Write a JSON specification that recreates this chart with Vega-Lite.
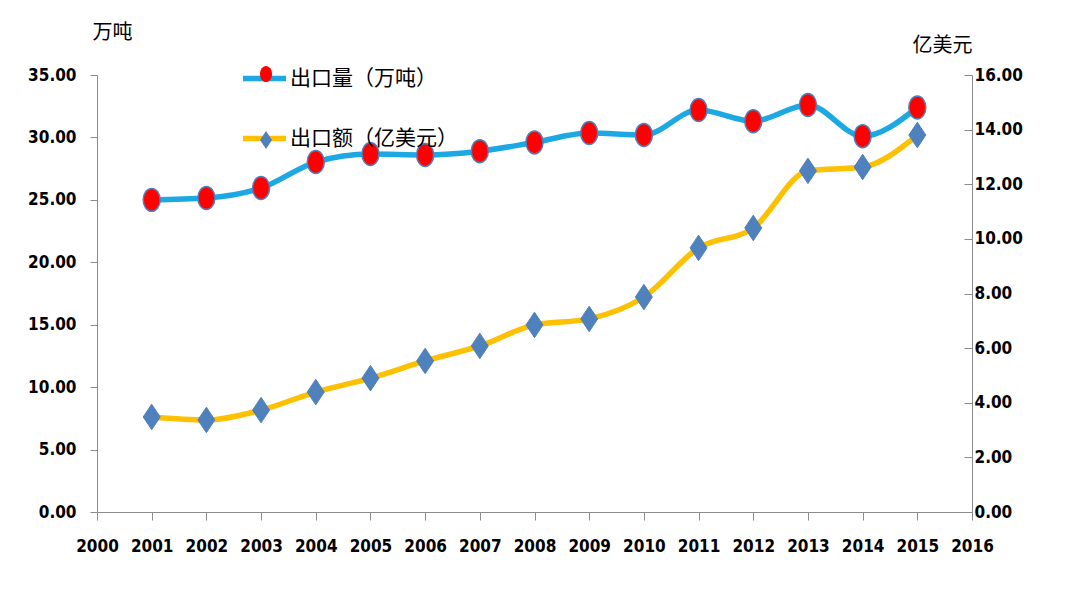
{
  "$schema": "https://vega.github.io/schema/vega-lite/v6.json",
  "autosize": "none",
  "width": 875,
  "height": 437,
  "padding": {"left": 97, "top": 75, "right": 108, "bottom": 80},
  "background": "white",
  "config": {
    "view": {"stroke": null},
    "axis": {"grid": false, "domainColor": "#8c8c8c", "tickColor": "#8c8c8c", "labelFont": "Liberation Sans Narrow, DejaVu Sans Condensed, sans-serif", "labelFontWeight": "bold", "labelFontSize": 17, "labelColor": "#000", "titleFont": "Noto Sans CJK SC", "titleFontWeight": "normal", "titleFontSize": 20, "titleColor": "#000"}
  },
  "data": {"values": [
    {"year": 2001, "vol": 25.0, "val": 3.48},
    {"year": 2002, "vol": 25.15, "val": 3.37},
    {"year": 2003, "vol": 25.95, "val": 3.73},
    {"year": 2004, "vol": 28.03, "val": 4.39},
    {"year": 2005, "vol": 28.67, "val": 4.9},
    {"year": 2006, "vol": 28.6, "val": 5.53},
    {"year": 2007, "vol": 28.9, "val": 6.08},
    {"year": 2008, "vol": 29.6, "val": 6.85},
    {"year": 2009, "vol": 30.35, "val": 7.07},
    {"year": 2010, "vol": 30.2, "val": 7.87},
    {"year": 2011, "vol": 32.2, "val": 9.67},
    {"year": 2012, "vol": 31.3, "val": 10.4},
    {"year": 2013, "vol": 32.6, "val": 12.49},
    {"year": 2014, "vol": 30.1, "val": 12.63},
    {"year": 2015, "vol": 32.4, "val": 13.8}
  ]},
  "encoding": {
    "x": {"field": "year", "type": "quantitative", "scale": {"domain": [2000, 2016], "nice": false, "zero": false},
      "axis": {"title": null, "values": [2000,2001,2002,2003,2004,2005,2006,2007,2008,2009,2010,2011,2012,2013,2014,2015,2016], "format": "d", "tickSize": 8, "labelPadding": 18, "labelFlush": false}}
  },
  "layer": [
    {
      "encoding": {
        "y": {"field": "vol", "type": "quantitative", "scale": {"domain": [0, 35], "nice": false},
          "axis": {"orient": "left", "values": [0,5,10,15,20,25,30,35], "format": ".2f", "tickSize": 7, "labelPadding": 14,
            "title": "万吨", "titleAngle": 0, "titleX": 15, "titleY": -43, "titleAlign": "center", "titleBaseline": "middle"}}
      },
      "layer": [
        {"mark": {"type": "line", "interpolate": "monotone", "strokeWidth": 5.5},
         "encoding": {"stroke": {"datum": "出口量（万吨）", "type": "nominal",
            "scale": {"domain": ["出口量（万吨）", "出口额（亿美元）"], "range": ["#1CA9E3", "#FFC000"]},
            "legend": {"orient": "none", "legendX": 143, "legendY": -21, "title": null, "symbolType": "stroke", "symbolSize": 1850, "symbolStrokeWidth": 5.5, "labelFont": "Noto Sans CJK SC", "labelFontSize": 21, "labelLimit": 400, "labelColor": "#000", "labelOffset": 1, "rowPadding": 24, "padding": 0}}}},
        {"mark": {"type": "point", "filled": true, "size": 289, "stroke": "#4F81BD", "strokeWidth": 1.5, "opacity": 1},
         "encoding": {"fill": {"datum": "量", "type": "nominal",
            "scale": {"domain": ["量", "额"], "range": ["#FF0000", "#4F81BD"]},
            "legend": {"orient": "none", "legendX": 162, "legendY": -8, "title": null, "symbolSize": 144, "symbolStrokeColor": "#4F81BD", "symbolStrokeWidth": 1.2, "symbolOpacity": 1, "labelExpr": "''", "labelFontSize": 1, "rowPadding": 43, "padding": 0}},
          "shape": {"datum": "量", "type": "nominal",
            "scale": {"domain": ["量", "额"], "range": ["M0,-1.35A1,1.35 0 1,1 0,1.35A1,1.35 0 1,1 0,-1.35Z", "M0,-1.5L1,0L0,1.5L-1,0Z"]},
            "legend": {"orient": "none", "legendX": 162, "legendY": -8, "title": null, "symbolSize": 144, "symbolStrokeColor": "#4F81BD", "symbolStrokeWidth": 1.2, "symbolOpacity": 1, "labelExpr": "''", "labelFontSize": 1, "rowPadding": 43, "padding": 0}}}}
      ]
    },
    {
      "encoding": {
        "y": {"field": "val", "type": "quantitative", "scale": {"domain": [0, 16], "nice": false},
          "axis": {"orient": "right", "values": [0,2,4,6,8,10,12,14,16], "format": ".2f", "tickSize": -8, "labelPadding": 10,
            "title": "亿美元", "titleAngle": 0, "titleX": -30, "titleY": -30, "titleAlign": "center", "titleBaseline": "middle"}}
      },
      "layer": [
        {"mark": {"type": "line", "interpolate": "monotone", "strokeWidth": 5.5},
         "encoding": {"stroke": {"datum": "出口额（亿美元）", "type": "nominal"}}},
        {"mark": {"type": "point", "filled": true, "size": 289, "stroke": "#4F81BD", "strokeWidth": 1, "opacity": 1},
         "encoding": {"fill": {"datum": "额", "type": "nominal"}, "shape": {"datum": "额", "type": "nominal"}}}
      ]
    }
  ],
  "resolve": {"scale": {"y": "independent"}, "axis": {"y": "independent"}}
}
